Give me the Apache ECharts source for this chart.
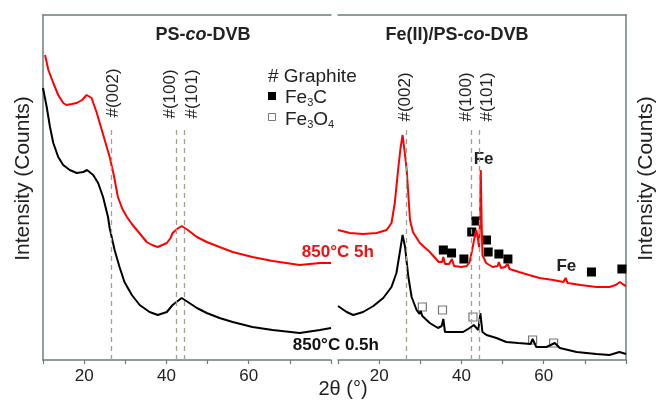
<!DOCTYPE html>
<html style="height: 100%">

<head>
    <meta charset="utf-8">
    <script src="https://cdn.jsdelivr.net/npm/echarts@6/dist/echarts.min.js"></script>
</head>

<body style="height: 100%; margin: 0; background: #fff">
    <div id="main" style="width: 659px; height: 407px;"></div>
    <script type="text/javascript">
    // 2θ (°) vs intensity (arbitrary units)
    var tickLabels = [20, 40, 60];

    // PS-co-DVB, 850°C 5h
    var leftRed = [[10.5,305],[11.3,290],[12.5,277],[13.7,265],[14.9,257],[15.7,255],[17,256],[18.2,257],[19.5,260],[20.6,265],[21.8,262],[23,248],[23.8,237],[25,220],[26.2,203],[27.2,185],[28.2,163],[29.3,151],[30.4,143],[31.6,136],[32.8,130],[34,124],[35.2,118],[36.5,115],[37.9,113],[39,115],[40.1,117],[41,122],[41.5,127],[42.6,131],[43.7,134],[45.2,130],[47.4,123],[49.8,118],[52.9,113],[56.1,108],[60.9,103],[65.8,99],[72.4,95],[77.3,97],[80,97]];
    // PS-co-DVB, 850°C 0.5h
    var leftBlack = [[10,272],[10.9,253],[11.7,233],[12.5,217],[13.7,203],[14.9,195],[16.5,190],[18.2,187],[19.8,188],[20.7,190],[22.2,185],[23.4,177],[24.6,163],[25.8,143],[26.2,132],[27.4,110],[28.6,93],[29.8,78],[31.6,65],[33.5,55],[35.9,48],[37.9,45],[40.1,48],[41.5,55],[43.7,62],[45.2,58],[47.4,52],[49.8,47],[52.9,42],[56.1,38],[60.9,33],[65.8,30],[72.4,27],[77.3,30],[80,32]];
    // Fe(II)/PS-co-DVB, 850°C 5h
    var rightRed = [[10,130],[12.9,127],[16.1,126],[19.4,127],[21.8,130],[23,137],[23.8,157],[24.6,190],[25.2,212],[25.7,225],[26.2,208],[26.7,190],[27.5,140],[28.2,128],[29.9,117],[32.3,108],[34.5,98],[35.3,98],[35.6,103],[36,96],[37,96],[37.7,101],[38.2,94],[40,93],[41.3,94],[42,98],[42.7,112],[43.3,125],[43.6,130],[44,121],[44.3,113],[44.5,140],[44.7,190],[44.9,140],[45.1,105],[46,97],[47.6,93],[48.8,94],[49.1,98],[49.6,92],[50.6,93],[51.2,96],[51.7,91],[54,88],[56.4,85],[59,82],[62.3,80],[64.8,78],[65.3,82],[65.8,77],[69,75],[72.8,73],[76,73],[77.5,75],[78.5,78],[79.5,75],[80,74]];
    // Fe(II)/PS-co-DVB, 850°C 0.5h
    var rightBlack = [[10,54],[12.1,48],[13.7,45],[16.1,48],[18.6,54],[21,62],[23,73],[24.2,87],[25,107],[25.7,125],[26.3,113],[27.1,83],[27.9,63],[29.1,50],[29.8,46],[30.1,49],[30.5,44],[32.3,37],[34.3,32],[35.2,34],[35.6,41],[36,28],[38,28],[40.4,28],[42,32],[43,35],[44.1,30],[44.6,47],[45.1,28],[46.1,25],[48.5,22],[50.9,18],[53.8,17],[56.8,16],[57.3,21],[58.2,13],[60.7,13],[62.7,17],[63.9,12],[68,8],[72.8,6],[76,5],[78.4,8],[80,6]];

    // phase markers
    var fe3cPoints = [[35.6,110],[37.6,107],[40.6,101],[42.5,128],[43.5,139],[46.1,120],[46.5,108],[49.1,106],[51.3,101],[71.6,88],[79,91]];
    var fe3o4Points = [[30.5,53],[35.4,50],[42.8,43],[57.3,20],[62.4,17]];

    // graphite reflections
    var graphitePeaks = [26.5, 42.4, 44.4];
    var peakLineTop = 230;
    var leftPeakLabels = [['#(002)', 27.2, 267], ['#(100)', 40.9, 266], ['#(101)', 46.3, 266]];
    var rightPeakLabels = [['#(002)', 26.3, 263], ['#(100)', 41.2, 263], ['#(101)', 46.3, 263]];
    var feLabels = [['Fe', 45.4, 201], ['Fe', 65.5, 94]];
    var curveLabels = [['850°C 5h', 72.9, 108, '#ee1111'], ['850°C 0.5h', 70.7, 15, '#111']];

    var FONT = 'Liberation Sans, Arial, sans-serif';
    var AXIS = '#6e7c7c';
    var TXT = '#222';

    var myChart = echarts.init(document.getElementById('main'));

    function peakLines() {
        return graphitePeaks.map(function (p) {
            return [{ coord: [p, 0] }, { coord: [p, peakLineTop] }];
        });
    }

    function bottomAxis(grid) {
        return {
            gridIndex: grid, type: 'value', min: 10, max: 80, interval: 10, position: 'bottom',
            axisLine: { show: true, onZero: false, lineStyle: { color: AXIS, width: 1.5 } },
            axisTick: { show: true, length: 4, lineStyle: { color: AXIS, width: 1.2 } },
            axisLabel: {
                margin: 8, fontSize: 17, color: TXT, fontFamily: FONT,
                formatter: function (v) { return tickLabels.indexOf(v) >= 0 ? v : ''; }
            },
            splitLine: { show: false }
        };
    }

    function topAxis(grid) {
        return {
            gridIndex: grid, type: 'value', min: 10, max: 80, position: 'top',
            axisLine: { show: true, onZero: false, lineStyle: { color: AXIS, width: 1.5 } },
            axisTick: { show: false }, axisLabel: { show: false }, splitLine: { show: false }
        };
    }

    function yAxis(grid, pos) {
        return {
            gridIndex: grid, type: 'value', min: 0, max: 345, position: pos,
            axisLine: { show: true, onZero: false, lineStyle: { color: AXIS, width: 1.5 } },
            axisTick: { show: false }, axisLabel: { show: false }, splitLine: { show: false },
            name: 'Intensity (Counts)', nameLocation: 'middle', nameRotate: 90,
            nameGap: pos === 'left' ? 9 : 10,
            nameTextStyle: { fontSize: 21, color: TXT, fontFamily: FONT, padding: [0, 0, 0, 18] }
        };
    }

    function labelSeries(list, xi, yi, opt) {
        return {
            type: 'scatter', xAxisIndex: xi, yAxisIndex: yi, symbolSize: 0, silent: true, clip: false,
            itemStyle: { opacity: 1 },
            data: list.map(function (d) {
                var item = { name: d[0], value: [d[1], d[2]] };
                if (d[3]) item.label = { color: d[3] };
                return item;
            }),
            label: Object.assign({ show: true, formatter: '{b}', fontFamily: FONT, color: TXT }, opt)
        };
    }

    var subRich = {
        m: { fontSize: 19, lineHeight: 20, verticalAlign: 'top', fontFamily: FONT },
        s: { fontSize: 11, lineHeight: 12, padding: [17, 0, 0, 0], verticalAlign: 'bottom', fontFamily: FONT }
    };
    var titleRich = {
        b: { fontSize: 18, fontWeight: 'bold', fontFamily: FONT },
        i: { fontSize: 18, fontWeight: 'bold', fontStyle: 'italic', fontFamily: FONT }
    };

    var option = {
        animation: false,
        backgroundColor: '#fff',
        grid: [
            { left: 43, right: 328, top: 15, bottom: 47 },
            { left: 338, right: 33, top: 15, bottom: 47 }
        ],
        xAxis: [bottomAxis(0), topAxis(0), bottomAxis(1), topAxis(1)],
        yAxis: [yAxis(0, 'left'), yAxis(1, 'right')],
        graphic: [
            { type: 'text', x: 203, y: 35, style: { text: '{b|PS-}{i|co}{b|-DVB}', align: 'center', verticalAlign: 'middle', fill: TXT, rich: titleRich } },
            { type: 'text', x: 457, y: 35, style: { text: '{b|Fe(II)/PS-}{i|co}{b|-DVB}', align: 'center', verticalAlign: 'middle', fill: TXT, rich: titleRich } },
            { type: 'text', x: 343, y: 389, style: { text: '2θ (°)', align: 'center', verticalAlign: 'middle', fill: TXT, fontSize: 20, fontFamily: FONT } },
            // legend
            { type: 'text', x: 268, y: 67, style: { text: '# Graphite', verticalAlign: 'top', fill: TXT, fontSize: 19, fontFamily: FONT } },
            { type: 'rect', shape: { x: 268, y: 92, width: 8, height: 8 }, style: { fill: '#000' } },
            { type: 'text', x: 285, y: 88, style: { text: '{m|Fe}{s|3}{m|C}', verticalAlign: 'top', fill: TXT, rich: subRich } },
            { type: 'rect', shape: { x: 268.5, y: 113.5, width: 7, height: 7 }, style: { fill: '#fff', stroke: '#777', lineWidth: 1 } },
            { type: 'text', x: 285, y: 110, style: { text: '{m|Fe}{s|3}{m|O}{s|4}', verticalAlign: 'top', fill: TXT, rich: subRich } }
        ],
        series: [
            {
                name: 'PS-co-DVB 850°C 5h', type: 'line', xAxisIndex: 0, yAxisIndex: 0,
                showSymbol: false, data: leftRed, lineStyle: { color: '#ff0000', width: 2 }, itemStyle: { color: '#ff0000' }
            },
            {
                name: 'PS-co-DVB 850°C 0.5h', type: 'line', xAxisIndex: 0, yAxisIndex: 0,
                showSymbol: false, data: leftBlack, lineStyle: { color: '#000', width: 2 }, itemStyle: { color: '#000' },
                markLine: { silent: true, symbol: ['none', 'none'], label: { show: false },
                    lineStyle: { color: '#9ea48e', type: [5, 4], width: 1.3 }, data: peakLines() }
            },
            {
                name: 'Fe(II)/PS-co-DVB 850°C 5h', type: 'line', xAxisIndex: 2, yAxisIndex: 1,
                showSymbol: false, data: rightRed, lineStyle: { color: '#ff0000', width: 2 }, itemStyle: { color: '#ff0000' }
            },
            {
                name: 'Fe(II)/PS-co-DVB 850°C 0.5h', type: 'line', xAxisIndex: 2, yAxisIndex: 1,
                showSymbol: false, data: rightBlack, lineStyle: { color: '#000', width: 2 }, itemStyle: { color: '#000' },
                markLine: { silent: true, symbol: ['none', 'none'], label: { show: false },
                    lineStyle: { color: '#9ea48e', type: [5, 4], width: 1.3 }, data: peakLines() }
            },
            {
                name: 'Fe3C', type: 'scatter', xAxisIndex: 2, yAxisIndex: 1, symbol: 'rect', symbolSize: 9,
                data: fe3cPoints, itemStyle: { color: '#000', opacity: 1 }
            },
            {
                name: 'Fe3O4', type: 'scatter', xAxisIndex: 2, yAxisIndex: 1, symbol: 'rect', symbolSize: 8,
                data: fe3o4Points, itemStyle: { color: '#fff', borderColor: '#777', borderWidth: 1.2, opacity: 1 }
            },
            labelSeries(leftPeakLabels, 0, 0, { position: 'inside', rotate: 90, fontSize: 17 }),
            labelSeries(rightPeakLabels, 2, 1, { position: 'inside', rotate: 90, fontSize: 17 }),
            labelSeries(feLabels, 2, 1, { position: 'inside', fontSize: 17, fontWeight: 'bold' }),
            labelSeries(curveLabels, 0, 0, { position: 'right', distance: 0, fontSize: 17, fontWeight: 'bold' })
        ]
    };

    myChart.setOption(option);
    </script>

</body>

</html>
